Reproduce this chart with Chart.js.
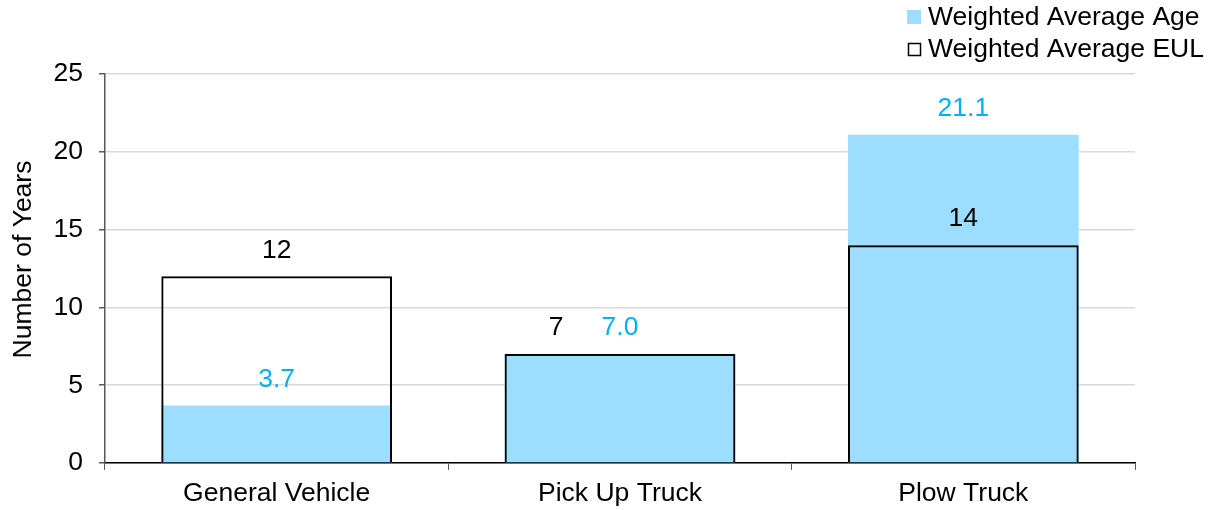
<!DOCTYPE html>
<html>
<head>
<meta charset="utf-8">
<script src="https://cdn.jsdelivr.net/npm/chart.js@4/dist/chart.umd.min.js"></script>
<style>
  html, body { margin: 0; padding: 0; background: #ffffff; }
  #wrap { position: relative; width: 1212px; height: 510px; }
</style>
</head>
<body>
<div id="wrap"><canvas id="chart" width="1212" height="510"></canvas></div>
<script>
// Fleet categories and average years
const categories = ['General Vehicle', 'Pick Up Truck', 'Plow Truck'];
const weightedAverageAge = [3.7, 7.0, 21.1];
const weightedAverageEUL = [12, 7, 14];
const ageLabels = ['3.7', '7.0', '21.1'];
const eulLabels = ['12', '7', '14'];
const yTicks = [0, 5, 10, 15, 20, 25];
const yTitle = 'Number of Years';

const FONT = '"Liberation Sans", Arial, Helvetica, sans-serif';
const FONT_SIZE = 26.5;
const AGE_FILL = '#9DDDFF';
const AGE_TEXT = '#00B0F0';
const AXIS = '#595959';

// Value labels above each bar; when both series share a value the EUL label sits to the left
const valueLabels = {
  id: 'valueLabels',
  afterDatasetsDraw(chart) {
    const ctx = chart.ctx;
    const eulMeta = chart.getDatasetMeta(0);
    const ageMeta = chart.getDatasetMeta(1);
    ctx.save();
    ctx.font = FONT_SIZE + 'px ' + FONT;
    ctx.textAlign = 'center';
    ctx.textBaseline = 'middle';
    categories.forEach((c, i) => {
      const age = ageMeta.data[i];
      const eul = eulMeta.data[i];
      const same = weightedAverageAge[i] === weightedAverageEUL[i];
      ctx.fillStyle = AGE_TEXT;
      ctx.fillText(ageLabels[i], age.x, age.y - 26);
      ctx.fillStyle = '#000000';
      ctx.fillText(eulLabels[i], same ? eul.x - 64 : eul.x, eul.y - 26);
    });
    ctx.restore();
  }
};

// Rotated y-axis title, set slightly above the middle of the plot
const axisTitle = {
  id: 'axisTitle',
  afterDraw(chart) {
    const ctx = chart.ctx;
    const area = chart.chartArea;
    ctx.save();
    ctx.font = FONT_SIZE + 'px ' + FONT;
    ctx.fillStyle = '#000000';
    ctx.textAlign = 'center';
    ctx.textBaseline = 'middle';
    ctx.translate(24, (area.top + area.bottom) / 2 - 9);
    ctx.rotate(-Math.PI / 2);
    ctx.fillText(yTitle, 0, 0);
    ctx.restore();
  }
};

// Two-row legend in the top right corner
const cornerLegend = {
  id: 'cornerLegend',
  afterDraw(chart) {
    const ctx = chart.ctx;
    ctx.save();
    ctx.font = FONT_SIZE + 'px ' + FONT;
    ctx.textAlign = 'left';
    ctx.textBaseline = 'middle';
    ctx.fillStyle = AGE_FILL;
    ctx.fillRect(907, 10, 14, 14);
    ctx.strokeStyle = '#000000';
    ctx.lineWidth = 1.5;
    ctx.strokeRect(908.5, 43.5, 12, 12);
    ctx.fillStyle = '#000000';
    ctx.fillText(chart.data.datasets[1].label, 928, 18);
    ctx.fillText(chart.data.datasets[0].label, 928, 50);
    ctx.restore();
  }
};

new Chart(document.getElementById('chart'), {
  type: 'bar',
  data: {
    labels: categories,
    datasets: [
      {
        label: 'Weighted Average EUL',
        data: weightedAverageEUL,
        backgroundColor: 'rgba(0,0,0,0)',
        borderColor: '#000000',
        borderWidth: 2,
        order: 0
      },
      {
        label: 'Weighted Average Age',
        data: weightedAverageAge,
        backgroundColor: AGE_FILL,
        borderWidth: 0,
        order: 1
      }
    ]
  },
  options: {
    responsive: false,
    animation: false,
    events: [],
    devicePixelRatio: 1,
    layout: { padding: { top: 74, right: 77, bottom: 0, left: 0 } },
    datasets: {
      bar: { grouped: false, categoryPercentage: 1.0, barPercentage: 0.672 }
    },
    plugins: {
      legend: { display: false },
      tooltip: { enabled: false }
    },
    scales: {
      x: {
        offset: true,
        grid: {
          offset: true,
          drawOnChartArea: false,
          tickLength: 7,
          tickColor: AXIS,
          lineWidth: 1
        },
        border: { color: '#000000', width: 1.5 },
        ticks: { color: '#000000', font: { family: FONT, size: FONT_SIZE }, padding: 8, maxRotation: 0 },
        afterFit(scale) { scale.height = 47; }
      },
      y: {
        min: 0,
        max: 25,
        afterBuildTicks(scale) { scale.ticks = yTicks.map(v => ({ value: v })); },
        grid: {
          color: '#D9D9D9',
          lineWidth: 1.5,
          tickLength: 6,
          tickColor: AXIS
        },
        border: { color: AXIS, width: 1.5 },
        ticks: { color: '#000000', font: { family: FONT, size: FONT_SIZE }, padding: 16 },
        afterFit(scale) { scale.width = 105; }
      }
    }
  },
  plugins: [valueLabels, axisTitle, cornerLegend]
});
</script>
</body>
</html>
